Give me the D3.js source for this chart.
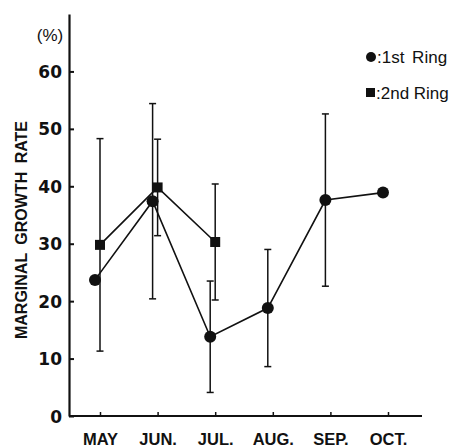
<!DOCTYPE html>
<html>
<head>
<meta charset="utf-8">
<script src="https://cdn.jsdelivr.net/npm/d3@7"></script>
<style>
  html, body { margin: 0; padding: 0; background: #fff; }
  svg { display: block; }
  text { fill: #111; }
</style>
</head>
<body>
<svg id="chart" width="454" height="448"></svg>
<script>
// Months on the x axis
const months = ["MAY", "JUN.", "JUL.", "AUG.", "SEP.", "OCT."];
// 1st ring: mean marginal growth rate (%) and error half-widths
const ring1 = [23.7, 37.4, 13.8, 18.8, 37.6, 38.9];
const ring1Err = [null, 17.0, 9.7, 10.2, 15.0, null];
// 2nd ring: only measured May–July
const ring2 = [29.8, 39.8, 30.3];
const ring2Err = [18.5, 8.4, 10.1];
// y-axis ticks
const yTicks = [0, 10, 20, 30, 40, 50, 60];

const svg = d3.select("#chart");
const ink = "#111";

const x = d3.scalePoint().domain(months).range([100, 388]);
const y = d3.scaleLinear().domain([0, 70]).range([416, 14]);
const axisX0 = 69, axisX1 = 422;
const off1 = -5, off2 = 0;   // horizontal nudge so the two series don't overlap

// y axis
const gy = svg.append("g").attr("transform", `translate(${axisX0},0)`)
  .call(d3.axisLeft(y).tickValues(yTicks).tickSizeInner(-5).tickSizeOuter(0).tickPadding(7));
gy.select(".domain").attr("stroke", ink).attr("stroke-width", 2.2);
gy.selectAll(".tick line").attr("stroke", ink).attr("stroke-width", 2);
gy.selectAll(".tick text")
  .attr("font-family", "'DejaVu Sans', sans-serif").attr("font-weight", "bold")
  .attr("font-size", 17).attr("fill", ink).attr("dy", "0.36em");

// x axis
const gx = svg.append("g").attr("transform", `translate(0,${y(0)})`)
  .call(d3.axisBottom(x).tickSize(-4).tickPadding(14));
gx.select(".domain").remove();
gx.append("line").attr("x1", axisX0).attr("x2", axisX1)
  .attr("stroke", ink).attr("stroke-width", 2);
gx.selectAll(".tick line").attr("stroke", ink).attr("stroke-width", 1.5);
gx.selectAll(".tick text")
  .attr("font-family", "'Liberation Sans', Arial, sans-serif").attr("font-weight", "bold")
  .attr("font-size", 16.5).attr("fill", ink).attr("dy", "0.9em");

// unit label and axis title
svg.append("text").attr("x", 50).attr("y", 41).attr("text-anchor", "middle")
  .attr("font-family", "'Liberation Sans', Arial, sans-serif").attr("font-size", 17)
  .text("(%)");
svg.append("text")
  .attr("transform", `translate(27,230) rotate(-90)`)
  .attr("text-anchor", "middle")
  .attr("font-family", "'Liberation Sans', Arial, sans-serif").attr("font-weight", "bold")
  .attr("font-size", 16).attr("word-spacing", 4)
  .text("MARGINAL GROWTH RATE");

// error bars
function errorBars(vals, errs, dx) {
  const g = svg.append("g").attr("stroke", ink).attr("stroke-width", 1.5);
  vals.forEach((v, i) => {
    const e = errs[i];
    if (e == null) return;
    const cx = x(months[i]) + dx;
    g.append("line").attr("x1", cx).attr("x2", cx).attr("y1", y(v + e)).attr("y2", y(v - e));
    [v + e, v - e].forEach(t => g.append("line")
      .attr("x1", cx - 3.5).attr("x2", cx + 3.5).attr("y1", y(t)).attr("y2", y(t)));
  });
}
errorBars(ring1, ring1Err, off1);
errorBars(ring2, ring2Err, off2);

// connecting lines
const line = dx => d3.line().x((d, i) => x(months[i]) + dx).y(d => y(d));
svg.append("path").attr("d", line(off1)(ring1))
  .attr("fill", "none").attr("stroke", ink).attr("stroke-width", 1.6);
svg.append("path").attr("d", line(off2)(ring2))
  .attr("fill", "none").attr("stroke", ink).attr("stroke-width", 1.6);

// markers
svg.append("g").selectAll("circle").data(ring1).join("circle")
  .attr("cx", (d, i) => x(months[i]) + off1).attr("cy", d => y(d)).attr("r", 6).attr("fill", ink);
svg.append("g").selectAll("rect").data(ring2).join("rect")
  .attr("x", (d, i) => x(months[i]) + off2 - 5).attr("y", d => y(d) - 5)
  .attr("width", 10).attr("height", 10).attr("fill", ink);

// legend
const lg = svg.append("g").attr("font-family", "'Liberation Sans', Arial, sans-serif").attr("font-size", 17);
lg.append("circle").attr("cx", 371).attr("cy", 57).attr("r", 5).attr("fill", ink);
lg.append("text").attr("x", 377).attr("y", 63).attr("word-spacing", 3).text(":1st Ring");
lg.append("rect").attr("x", 366).attr("y", 88).attr("width", 9).attr("height", 9).attr("fill", ink);
lg.append("text").attr("x", 376).attr("y", 99).text(":2nd Ring");
</script>
</body>
</html>
